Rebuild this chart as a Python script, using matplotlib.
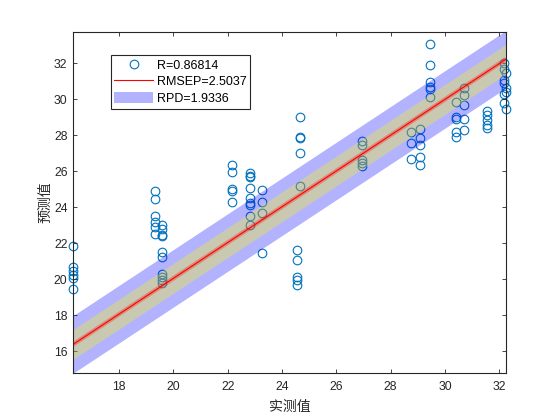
import matplotlib
matplotlib.use("Agg")
import matplotlib.pyplot as plt
import numpy as np

plt.rcParams['font.family'] = ['Liberation Sans', 'Noto Sans CJK SC', 'DejaVu Sans']

# measured (x) and predicted (y) values, grouped by measured value
measured = (
    [16.3] * 6
    + [19.32] * 6 + [19.56] * 10
    + [22.15] * 5 + [22.82] * 9 + [23.25] * 4
    + [24.67] * 5 + [24.55] * 5
    + [26.94] * 5
    + [28.75] * 3 + [29.08] * 5
    + [29.44] * 6
    + [30.40] * 5 + [30.72] * 5
    + [31.56] * 5
    + [32.17] * 6 + [32.25] * 4
)
predicted = (
    [21.85, 20.7, 20.45, 20.25, 20.05, 19.45]
    + [24.88, 24.46, 23.49, 23.16, 22.93, 22.51]
    + [23.03, 22.79, 22.47, 22.38, 21.49, 21.21, 20.3, 20.12, 19.97, 19.79]
    + [26.36, 25.96, 25.01, 24.92, 24.32]
    + [25.9, 25.75, 25.66, 25.07, 24.51, 24.23, 24.14, 23.49, 23.03]
    + [24.97, 24.27, 23.68, 21.46]
    + [29.01, 27.93, 27.88, 27.01, 25.19]
    + [21.6, 21.04, 20.12, 19.93, 19.69]
    + [27.66, 27.47, 26.64, 26.45, 26.27]
    + [28.21, 27.6, 26.68]
    + [28.34, 27.84, 27.47, 26.77, 26.36]
    + [33.07, 31.92, 30.99, 30.71, 30.57, 30.16]
    + [29.88, 29.04, 28.9, 28.21, 27.93]
    + [30.62, 30.25, 29.69, 28.9, 28.3]
    + [29.36, 29.14, 28.86, 28.58, 28.4]
    + [32.0, 31.68, 31.08, 30.93, 30.3, 29.82]
    + [31.46, 30.62, 30.43, 29.47]
)

# fitted line and band half-widths
fit_slope = 0.995
fit_intercept = 0.15
outer_half = 1.6
inner_half = 0.83

legend_labels = ["R=0.86814", "RMSEP=2.5037", "RPD=1.9336"]
x_ticks = [18, 20, 22, 24, 26, 28, 30, 32]
y_ticks = [16, 18, 20, 22, 24, 26, 28, 30, 32]
x_label = "实测值"
y_label = "预测值"

measured = np.array(measured)
predicted = np.array(predicted)

fig = plt.figure(figsize=(5.6, 4.2), dpi=100)
ax = fig.add_axes([0.1304, 0.1119, 0.7732, 0.8119])

mcol = (0.0, 0.447, 0.741)
hp, = ax.plot(measured, predicted, 'o', mfc='none', mec=mcol, ms=6.2, mew=0.8,
              linestyle='none', zorder=1, clip_on=False)

xs = np.array([measured.min(), measured.max()])
yl = fit_slope * xs + fit_intercept
hb = ax.fill_between(xs, yl - outer_half, yl + outer_half, color=(0, 0, 1), alpha=0.3,
                     linewidth=0, zorder=2)
ax.fill_between(xs, yl - inner_half, yl + inner_half, color=(1, 1, 0), alpha=0.3,
                linewidth=0, zorder=3)
ax.plot(xs, yl, color=(1, 0, 0), alpha=0.3, lw=3.2, zorder=4, solid_capstyle='butt')
hl, = ax.plot(xs, yl, color=(1, 0, 0), lw=0.8, zorder=5)

ax.set_xlim(measured.min(), measured.max())
ax.set_ylim(14.78, 33.75)
ax.set_xticks(x_ticks)
ax.set_yticks(y_ticks)

dark = (0.15, 0.15, 0.15)
for s in ax.spines.values():
    s.set_color(dark)
    s.set_linewidth(0.8)
    s.set_zorder(10)
ax.tick_params(direction='in', top=True, right=True, length=3, width=0.6,
               colors=dark, labelsize=8.8)
ax.tick_params(axis='x', pad=6)
ax.tick_params(axis='y', pad=4)

ax.set_xlabel(x_label, fontsize=10, color=dark, family=['Noto Sans CJK SC'], labelpad=5)
ax.set_ylabel(y_label, fontsize=10, color=dark, family=['Noto Sans CJK SC'], labelpad=1)

leg = ax.legend([hp, hl, hb], legend_labels, loc='upper left',
                bbox_to_anchor=(0.087, 0.9326), fontsize=9, handlelength=3.1,
                handleheight=1.0, handletextpad=0.3, borderpad=0.3, labelspacing=0.3,
                fancybox=False, framealpha=1, edgecolor=dark, borderaxespad=0)
leg.get_frame().set_linewidth(0.8)
leg.set_zorder(20)

fig.savefig("out.png", dpi=100)
